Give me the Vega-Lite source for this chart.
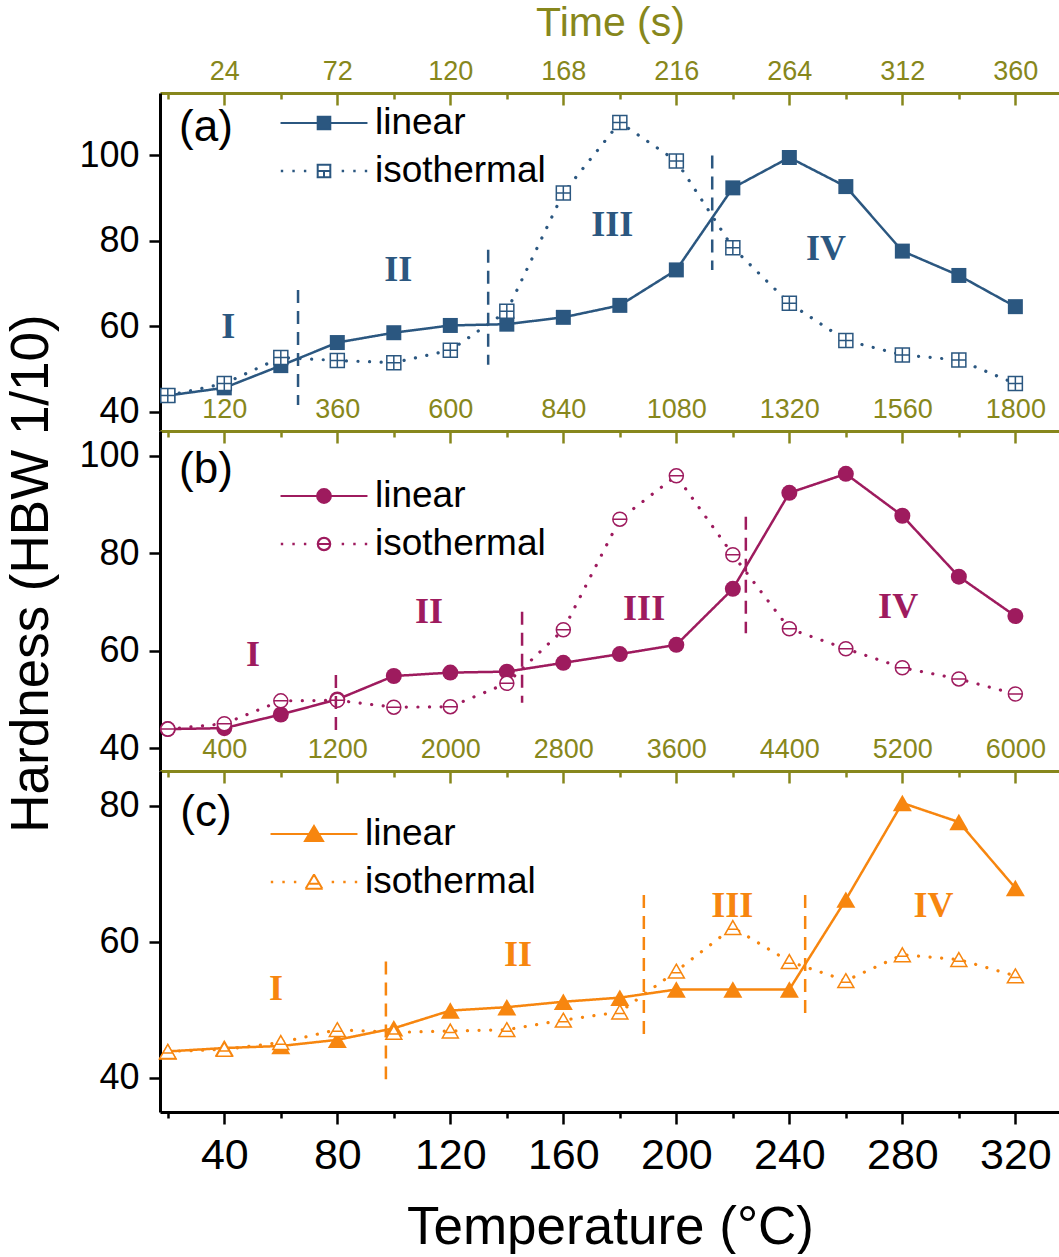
{
  "$schema": "https://vega.github.io/schema/vega-lite/v6.json",
  "padding": {"left": 5, "top": 2, "right": 0, "bottom": 0},
  "spacing": 0,
  "bounds": "flush",
  "config": {
    "font": "Liberation Sans",
    "view": {"stroke": null},
    "axis": {"grid": false, "labelFont": "Liberation Sans", "titleFont": "Liberation Sans", "titleFontWeight": "normal", "labelColor": "black", "titleColor": "black", "domainColor": "black", "tickColor": "black", "domainWidth": 3, "tickWidth": 2.5, "labelFlush": false, "labelOverlap": false, "labelBound": false}
  },
  "resolve": {"scale": {"x": "independent", "y": "independent", "shape": "independent", "strokeDash": "independent", "strokeWidth": "independent"}, "legend": {"shape": "independent"}},
  "datasets": {
    "a": [
      {"T": 20, "s": "linear", "h": 43.8}, {"T": 40, "s": "linear", "h": 45.6}, {"T": 60, "s": "linear", "h": 50.8}, {"T": 80, "s": "linear", "h": 56.2}, {"T": 100, "s": "linear", "h": 58.5}, {"T": 120, "s": "linear", "h": 60.2}, {"T": 140, "s": "linear", "h": 60.5}, {"T": 160, "s": "linear", "h": 62.1}, {"T": 180, "s": "linear", "h": 64.9}, {"T": 200, "s": "linear", "h": 73.2}, {"T": 220, "s": "linear", "h": 92.4}, {"T": 240, "s": "linear", "h": 99.5}, {"T": 260, "s": "linear", "h": 92.7}, {"T": 280, "s": "linear", "h": 77.6}, {"T": 300, "s": "linear", "h": 71.9}, {"T": 320, "s": "linear", "h": 64.6},
      {"T": 20, "s": "isothermal", "h": 43.8}, {"T": 40, "s": "isothermal", "h": 46.6}, {"T": 60, "s": "isothermal", "h": 52.7}, {"T": 80, "s": "isothermal", "h": 52.0}, {"T": 100, "s": "isothermal", "h": 51.5}, {"T": 120, "s": "isothermal", "h": 54.4}, {"T": 140, "s": "isothermal", "h": 63.5}, {"T": 160, "s": "isothermal", "h": 91.2}, {"T": 180, "s": "isothermal", "h": 107.7}, {"T": 200, "s": "isothermal", "h": 98.7}, {"T": 220, "s": "isothermal", "h": 78.4}, {"T": 240, "s": "isothermal", "h": 65.4}, {"T": 260, "s": "isothermal", "h": 56.7}, {"T": 280, "s": "isothermal", "h": 53.3}, {"T": 300, "s": "isothermal", "h": 52.1}, {"T": 320, "s": "isothermal", "h": 46.6}
    ],
    "b": [
      {"T": 20, "s": "linear", "h": 43.9}, {"T": 40, "s": "linear", "h": 44.1}, {"T": 60, "s": "linear", "h": 46.9}, {"T": 80, "s": "linear", "h": 50.0}, {"T": 100, "s": "linear", "h": 54.8}, {"T": 120, "s": "linear", "h": 55.5}, {"T": 140, "s": "linear", "h": 55.7}, {"T": 160, "s": "linear", "h": 57.5}, {"T": 180, "s": "linear", "h": 59.3}, {"T": 200, "s": "linear", "h": 61.2}, {"T": 220, "s": "linear", "h": 72.7}, {"T": 240, "s": "linear", "h": 92.4}, {"T": 260, "s": "linear", "h": 96.3}, {"T": 280, "s": "linear", "h": 87.7}, {"T": 300, "s": "linear", "h": 75.2}, {"T": 320, "s": "linear", "h": 67.1},
      {"T": 20, "s": "isothermal", "h": 43.9}, {"T": 40, "s": "isothermal", "h": 45.0}, {"T": 60, "s": "isothermal", "h": 49.7}, {"T": 80, "s": "isothermal", "h": 49.8}, {"T": 100, "s": "isothermal", "h": 48.4}, {"T": 120, "s": "isothermal", "h": 48.5}, {"T": 140, "s": "isothermal", "h": 53.3}, {"T": 160, "s": "isothermal", "h": 64.3}, {"T": 180, "s": "isothermal", "h": 87.0}, {"T": 200, "s": "isothermal", "h": 95.9}, {"T": 220, "s": "isothermal", "h": 79.7}, {"T": 240, "s": "isothermal", "h": 64.5}, {"T": 260, "s": "isothermal", "h": 60.4}, {"T": 280, "s": "isothermal", "h": 56.5}, {"T": 300, "s": "isothermal", "h": 54.2}, {"T": 320, "s": "isothermal", "h": 51.1}
    ],
    "c": [
      {"T": 20, "s": "linear", "h": 43.9}, {"T": 40, "s": "linear", "h": 44.4}, {"T": 60, "s": "linear", "h": 44.7}, {"T": 80, "s": "linear", "h": 45.6}, {"T": 100, "s": "linear", "h": 47.3}, {"T": 120, "s": "linear", "h": 49.9}, {"T": 140, "s": "linear", "h": 50.4}, {"T": 160, "s": "linear", "h": 51.2}, {"T": 180, "s": "linear", "h": 51.8}, {"T": 200, "s": "linear", "h": 53.0}, {"T": 220, "s": "linear", "h": 53.0}, {"T": 240, "s": "linear", "h": 53.0}, {"T": 260, "s": "linear", "h": 66.2}, {"T": 280, "s": "linear", "h": 80.4}, {"T": 300, "s": "linear", "h": 77.6}, {"T": 320, "s": "linear", "h": 67.9},
      {"T": 20, "s": "isothermal", "h": 43.9}, {"T": 40, "s": "isothermal", "h": 44.2}, {"T": 60, "s": "isothermal", "h": 45.2}, {"T": 80, "s": "isothermal", "h": 47.1}, {"T": 100, "s": "isothermal", "h": 46.7}, {"T": 120, "s": "isothermal", "h": 46.9}, {"T": 140, "s": "isothermal", "h": 47.1}, {"T": 160, "s": "isothermal", "h": 48.5}, {"T": 180, "s": "isothermal", "h": 49.7}, {"T": 200, "s": "isothermal", "h": 55.7}, {"T": 220, "s": "isothermal", "h": 62.1}, {"T": 240, "s": "isothermal", "h": 57.1}, {"T": 260, "s": "isothermal", "h": 54.3}, {"T": 280, "s": "isothermal", "h": 58.1}, {"T": 300, "s": "isothermal", "h": 57.4}, {"T": 320, "s": "isothermal", "h": 55.0}
    ],
    "a_lines": [{"T": 66.1, "y1": 68.5, "y2": 41.6}, {"T": 133.4, "y1": 77.9, "y2": 51.0}, {"T": 212.7, "y1": 100.0, "y2": 73.2}],
    "b_lines": [{"T": 79.5, "y1": 55.0, "y2": 43.1}, {"T": 145.4, "y1": 68.0, "y2": 49.3}, {"T": 224.6, "y1": 87.5, "y2": 63.6}],
    "c_lines": [{"T": 97.2, "y1": 57.1, "y2": 39.8}, {"T": 188.5, "y1": 66.9, "y2": 45.6}, {"T": 245.6, "y1": 66.9, "y2": 49.3}],
    "a_stage": [{"T": 41.4, "h": 59.8, "t": "I"}, {"T": 101.6, "h": 73.2, "t": "II"}, {"T": 177.3, "h": 83.7, "t": "III"}, {"T": 253.0, "h": 78.1, "t": "IV"}],
    "b_stage": [{"T": 50.2, "h": 59.1, "t": "I"}, {"T": 112.5, "h": 68.0, "t": "II"}, {"T": 188.6, "h": 68.6, "t": "III"}, {"T": 278.5, "h": 69.0, "t": "IV"}],
    "c_stage": [{"T": 58.3, "h": 53.0, "t": "I"}, {"T": 144.0, "h": 58.1, "t": "II"}, {"T": 219.8, "h": 65.3, "t": "III"}, {"T": 291.0, "h": 65.2, "t": "IV"}],
    "a_tag": [{"T": 33.5, "h": 106.4, "t": "(a)"}],
    "b_tag": [{"T": 33.5, "h": 97.1, "t": "(b)"}],
    "c_tag": [{"T": 33.5, "h": 79.0, "t": "(c)"}]
  },
  "vconcat": [
    {
      "width": 900, "height": 338,
      "resolve": {"axis": {"x": "independent", "y": "independent"}},
      "layer": [
        {
          "data": {"name": "a"},
          "mark": {"type": "line", "strokeCap": "round", "color": "#2B5780"},
          "encoding": {
            "x": {"field": "T", "type": "quantitative", "scale": {"domain": [17.24, 335.8], "nice": false, "zero": false},
              "axis": {"orient": "top", "values": [40,80,120,160,200,240,280,320], "ticks": false, "tickSize": 0, "domainColor": "#87871C", "labelColor": "#87871C", "labelFontSize": 27, "labelPadding": 8,
                "labelExpr": "format((datum.value - 20) * 1.2, 'd')",
                "title": "Time (s)", "titleColor": "#87871C", "titleFontSize": 41, "titlePadding": 13}},
            "y": {"field": "h", "type": "quantitative", "scale": {"domain": [35.5, 114.6], "nice": false, "zero": false},
              "axis": {"values": [40, 60, 80, 100], "tickSize": 11, "labelFontSize": 36, "labelPadding": 10, "title": null}},
            "strokeDash": {"field": "s", "type": "nominal", "scale": {"domain": ["isothermal", "linear"], "range": [[0.1, 11.5], [1, 0]]}, "legend": null},
            "strokeWidth": {"field": "s", "type": "nominal", "scale": {"domain": ["isothermal", "linear"], "range": [3.2, 2.5]}, "legend": null}
          }
        },
        {
          "data": {"name": "a"},
          "transform": [{"filter": "datum.s == 'linear'"}],
          "mark": {"type": "point", "filled": true, "shape": "square", "size": 225, "color": "#2B5780", "opacity": 1},
          "encoding": {
            "x": {"field": "T", "type": "quantitative", "axis": {"orient": "top", "values": [40,80,120,160,200,240,280,320], "tickSize": -12, "labels": false, "domain": false, "tickColor": "#87871C", "title": null}},
            "y": {"field": "h", "type": "quantitative", "axis": null}
          }
        },
        {
          "data": {"name": "a"},
          "transform": [{"filter": "datum.s == 'isothermal'"}],
          "mark": {"type": "point", "filled": true, "shape": "M-1,-1H1V1H-1ZM-1,0H1M0,-1V1", "size": 196, "fill": "white", "stroke": "#2B5780", "strokeWidth": 1.5, "opacity": 1},
          "encoding": {
            "x": {"field": "T", "type": "quantitative", "axis": {"orient": "top", "values": [20,60,100,140,180,220,260,300], "tickSize": -6, "labels": false, "domain": false, "tickColor": "#87871C", "title": null}},
            "y": {"field": "h", "type": "quantitative", "axis": null}
          }
        },
        {
          "data": {"name": "a"},
          "transform": [{"filter": "datum.s == 'none'"}],
          "mark": {"type": "point", "filled": true, "fill": "#2B5780", "stroke": "#2B5780", "strokeWidth": 2, "opacity": 1},
          "encoding": {
            "x": {"field": "T", "type": "quantitative", "axis": null},
            "y": {"field": "h", "type": "quantitative", "axis": null},
            "shape": {"field": "s", "type": "nominal", "scale": {"domain": ["linear", "isothermal"], "range": [
                "M-2.07,0H2.07M-0.3,-0.3H0.3V0.3H-0.3Z",
                "M-2.01,-0.01h0.02v0.02h-0.02ZM-1.46,-0.01h0.02v0.02h-0.02ZM-0.91,-0.01h0.02v0.02h-0.02ZM0.89,-0.01h0.02v0.02h-0.02ZM1.44,-0.01h0.02v0.02h-0.02ZM1.99,-0.01h0.02v0.02h-0.02ZM-0.35,-0.3H0.35M0.3,-0.35V0.35M0.35,0.3H-0.35M-0.3,0.35V-0.35M-0.3,0H0.3M0,0V0.3"]},
              "legend": {"title": null, "orient": "none", "legendX": 142, "legendY": 8, "padding": 0, "symbolSize": 1764, "rowPadding": 8, "labelFontSize": 37, "labelFont": "Liberation Sans", "labelColor": "black", "labelOffset": 29, "labelLimit": 400, "symbolStrokeWidth": 2, "symbolOpacity": 1}}
          }
        },
        {
          "data": {"name": "a_lines"},
          "mark": {"type": "rule", "strokeDash": [13, 8], "strokeWidth": 2.5, "color": "#2B5780"},
          "encoding": {"x": {"field": "T", "type": "quantitative", "axis": null}, "y": {"field": "y1", "type": "quantitative", "axis": null}, "y2": {"field": "y2"}}
        },
        {
          "data": {"name": "a_stage"},
          "mark": {"type": "text", "font": "Liberation Serif", "fontWeight": "bold", "fontSize": 36, "color": "#2B5780", "baseline": "middle", "align": "center"},
          "encoding": {"x": {"field": "T", "type": "quantitative", "axis": null}, "y": {"field": "h", "type": "quantitative", "axis": null}, "text": {"field": "t"}}
        },
        {
          "data": {"name": "a_tag"},
          "mark": {"type": "text", "fontSize": 44, "color": "black", "baseline": "middle", "align": "center"},
          "encoding": {"x": {"field": "T", "type": "quantitative", "axis": null}, "y": {"field": "h", "type": "quantitative", "axis": null}, "text": {"field": "t"}}
        }
      ]
    },
    {
      "width": 900, "height": 340,
      "resolve": {"axis": {"x": "independent", "y": "independent"}},
      "layer": [
        {
          "data": {"name": "b"},
          "mark": {"type": "line", "strokeCap": "round", "color": "#9E1B5E"},
          "encoding": {
            "x": {"field": "T", "type": "quantitative", "scale": {"domain": [17.24, 335.8], "nice": false, "zero": false},
              "axis": {"orient": "top", "values": [40,80,120,160,200,240,280,320], "ticks": false, "tickSize": 0, "domainColor": "#87871C", "labelColor": "#87871C", "labelFontSize": 27, "labelPadding": 8,
                "labelExpr": "format((datum.value - 20) * 6, 'd')",
                "title": null}},
            "y": {"field": "h", "type": "quantitative", "scale": {"domain": [35.3, 105.1], "nice": false, "zero": false},
              "axis": {"values": [40, 60, 80, 100], "tickSize": 11, "labelFontSize": 36, "labelPadding": 10, "title": "Hardness (HBW 1/10)", "titleFontSize": 53, "titlePadding": 20, "titleY": 142}},
            "strokeDash": {"field": "s", "type": "nominal", "scale": {"domain": ["isothermal", "linear"], "range": [[0.1, 11.5], [1, 0]]}, "legend": null},
            "strokeWidth": {"field": "s", "type": "nominal", "scale": {"domain": ["isothermal", "linear"], "range": [3.2, 2.5]}, "legend": null}
          }
        },
        {
          "data": {"name": "b"},
          "transform": [{"filter": "datum.s == 'linear'"}],
          "mark": {"type": "point", "filled": true, "shape": "circle", "size": 256, "color": "#9E1B5E", "opacity": 1},
          "encoding": {
            "x": {"field": "T", "type": "quantitative", "axis": {"orient": "top", "values": [40,80,120,160,200,240,280,320], "tickSize": -12, "labels": false, "domain": false, "tickColor": "#87871C", "title": null}},
            "y": {"field": "h", "type": "quantitative", "axis": null}
          }
        },
        {
          "data": {"name": "b"},
          "transform": [{"filter": "datum.s == 'isothermal'"}],
          "mark": {"type": "point", "filled": true, "shape": "M1,0A1,1,0,1,1,-1,0A1,1,0,1,1,1,0ZM-1,0H1", "size": 196, "fill": "white", "stroke": "#9E1B5E", "strokeWidth": 1.5, "opacity": 1},
          "encoding": {
            "x": {"field": "T", "type": "quantitative", "axis": {"orient": "top", "values": [20,60,100,140,180,220,260,300], "tickSize": -6, "labels": false, "domain": false, "tickColor": "#87871C", "title": null}},
            "y": {"field": "h", "type": "quantitative", "axis": null}
          }
        },
        {
          "data": {"name": "b"},
          "transform": [{"filter": "datum.s == 'none'"}],
          "mark": {"type": "point", "filled": true, "fill": "#9E1B5E", "stroke": "#9E1B5E", "strokeWidth": 2, "opacity": 1},
          "encoding": {
            "x": {"field": "T", "type": "quantitative", "axis": null},
            "y": {"field": "h", "type": "quantitative", "axis": null},
            "shape": {"field": "s", "type": "nominal", "scale": {"domain": ["linear", "isothermal"], "range": [
                "M-2.07,0H2.07M0.33,0A0.33,0.33,0,1,1,-0.33,0A0.33,0.33,0,1,1,0.33,0Z",
                "M-2.01,-0.01h0.02v0.02h-0.02ZM-1.46,-0.01h0.02v0.02h-0.02ZM-0.91,-0.01h0.02v0.02h-0.02ZM0.89,-0.01h0.02v0.02h-0.02ZM1.44,-0.01h0.02v0.02h-0.02ZM1.99,-0.01h0.02v0.02h-0.02ZM0.3,0A0.3,0.3,0,1,1,-0.3,0A0.3,0.3,0,1,1,0.3,0ZM0.29,0A0.29,0.29,0,1,0,-0.29,0A0.29,0.29,0,1,0,0.29,0ZM-0.3,0H0.3"]},
              "legend": {"title": null, "orient": "none", "legendX": 142, "legendY": 43, "padding": 0, "symbolSize": 1764, "rowPadding": 8, "labelFontSize": 37, "labelFont": "Liberation Sans", "labelColor": "black", "labelOffset": 29, "labelLimit": 400, "symbolStrokeWidth": 2, "symbolOpacity": 1}}
          }
        },
        {
          "data": {"name": "b_lines"},
          "mark": {"type": "rule", "strokeDash": [13, 8], "strokeWidth": 2.5, "color": "#9E1B5E"},
          "encoding": {"x": {"field": "T", "type": "quantitative", "axis": null}, "y": {"field": "y1", "type": "quantitative", "axis": null}, "y2": {"field": "y2"}}
        },
        {
          "data": {"name": "b_stage"},
          "mark": {"type": "text", "font": "Liberation Serif", "fontWeight": "bold", "fontSize": 36, "color": "#9E1B5E", "baseline": "middle", "align": "center"},
          "encoding": {"x": {"field": "T", "type": "quantitative", "axis": null}, "y": {"field": "h", "type": "quantitative", "axis": null}, "text": {"field": "t"}}
        },
        {
          "data": {"name": "b_tag"},
          "mark": {"type": "text", "fontSize": 44, "color": "black", "baseline": "middle", "align": "center"},
          "encoding": {"x": {"field": "T", "type": "quantitative", "axis": null}, "y": {"field": "h", "type": "quantitative", "axis": null}, "text": {"field": "t"}}
        }
      ]
    },
    {
      "width": 900, "height": 341,
      "resolve": {"axis": {"x": "independent", "y": "independent"}},
      "layer": [
        {
          "data": {"name": "c"},
          "mark": {"type": "line", "strokeCap": "round", "color": "#F7860F"},
          "encoding": {
            "x": {"field": "T", "type": "quantitative", "scale": {"domain": [17.24, 335.8], "nice": false, "zero": false},
              "axis": {"orient": "top", "values": [40,80,120,160,200,240,280,320], "ticks": false, "tickSize": 0, "domainColor": "#87871C", "labelColor": "#87871C", "labelFontSize": 27, "labelPadding": 8,
                "labelExpr": "format((datum.value - 20) * 20, 'd')",
                "title": null}},
            "y": {"field": "h", "type": "quantitative", "scale": {"domain": [35.0, 85.1], "nice": false, "zero": false},
              "axis": {"values": [40, 60, 80], "tickSize": 11, "labelFontSize": 36, "labelPadding": 10, "title": null}},
            "strokeDash": {"field": "s", "type": "nominal", "scale": {"domain": ["isothermal", "linear"], "range": [[0.1, 11.5], [1, 0]]}, "legend": null},
            "strokeWidth": {"field": "s", "type": "nominal", "scale": {"domain": ["isothermal", "linear"], "range": [3.2, 2.5]}, "legend": null}
          }
        },
        {
          "data": {"name": "c"},
          "transform": [{"filter": "datum.s == 'linear'"}],
          "mark": {"type": "point", "filled": true, "shape": "triangle-up", "size": 361, "color": "#F7860F", "opacity": 1},
          "encoding": {
            "x": {"field": "T", "type": "quantitative", "axis": {"orient": "top", "values": [40,80,120,160,200,240,280,320], "tickSize": -12, "labels": false, "domain": false, "tickColor": "#87871C", "title": null}},
            "y": {"field": "h", "type": "quantitative", "axis": null}
          }
        },
        {
          "data": {"name": "c"},
          "transform": [{"filter": "datum.s == 'isothermal'"}],
          "mark": {"type": "point", "filled": true, "shape": "M0,-0.87L1,0.87H-1ZM-0.6,0.2H0.6", "size": 256, "fill": "white", "stroke": "#F7860F", "strokeWidth": 1.5, "opacity": 1},
          "encoding": {
            "x": {"field": "T", "type": "quantitative", "axis": {"orient": "top", "values": [20,60,100,140,180,220,260,300], "tickSize": -6, "labels": false, "domain": false, "tickColor": "#87871C", "title": null}},
            "y": {"field": "h", "type": "quantitative", "axis": null}
          }
        },
        {
          "data": {"name": "c"},
          "transform": [{"filter": "datum.s == 'none'"}],
          "mark": {"type": "point", "filled": true, "fill": "#F7860F", "stroke": "#F7860F", "strokeWidth": 2, "opacity": 1},
          "encoding": {
            "x": {"field": "T", "type": "quantitative", "axis": null},
            "y": {"field": "h", "type": "quantitative", "axis": null},
            "shape": {"field": "s", "type": "nominal", "scale": {"domain": ["linear", "isothermal"], "range": [
                "M-2.07,0H2.07M0,-0.38L0.43,0.33H-0.43Z",
                "M-2.01,-0.01h0.02v0.02h-0.02ZM-1.46,-0.01h0.02v0.02h-0.02ZM-0.91,-0.01h0.02v0.02h-0.02ZM0.89,-0.01h0.02v0.02h-0.02ZM1.44,-0.01h0.02v0.02h-0.02ZM1.99,-0.01h0.02v0.02h-0.02ZM0,-0.36L0.4,0.32M0.42,0.32H-0.42M-0.4,0.32L0,-0.36M-0.26,0.08H0.26"]},
              "legend": {"title": null, "orient": "none", "legendX": 132, "legendY": 41, "padding": 0, "symbolSize": 1764, "rowPadding": 8, "labelFontSize": 37, "labelFont": "Liberation Sans", "labelColor": "black", "labelOffset": 29, "labelLimit": 400, "symbolStrokeWidth": 2, "symbolOpacity": 1}}
          }
        },
        {
          "data": {"name": "c_lines"},
          "mark": {"type": "rule", "strokeDash": [13, 8], "strokeWidth": 2.5, "color": "#F7860F"},
          "encoding": {
            "x": {"field": "T", "type": "quantitative",
              "axis": {"orient": "bottom", "values": [40,80,120,160,200,240,280,320], "tickSize": 12, "labelFontSize": 43, "labelPadding": 10,
                "title": "Temperature (°C)", "titleFontSize": 53, "titlePadding": 24}},
            "y": {"field": "y1", "type": "quantitative", "axis": null}, "y2": {"field": "y2"}}
        },
        {
          "data": {"name": "c_stage"},
          "mark": {"type": "text", "font": "Liberation Serif", "fontWeight": "bold", "fontSize": 36, "color": "#F7860F", "baseline": "middle", "align": "center"},
          "encoding": {
            "x": {"field": "T", "type": "quantitative", "axis": {"orient": "bottom", "values": [20,60,100,140,180,220,260,300], "tickSize": 6, "labels": false, "domain": false, "title": null}},
            "y": {"field": "h", "type": "quantitative", "axis": null}, "text": {"field": "t"}}
        },
        {
          "data": {"name": "c_tag"},
          "mark": {"type": "text", "fontSize": 44, "color": "black", "baseline": "middle", "align": "center"},
          "encoding": {"x": {"field": "T", "type": "quantitative", "axis": null}, "y": {"field": "h", "type": "quantitative", "axis": null}, "text": {"field": "t"}}
        }
      ]
    }
  ]
}
